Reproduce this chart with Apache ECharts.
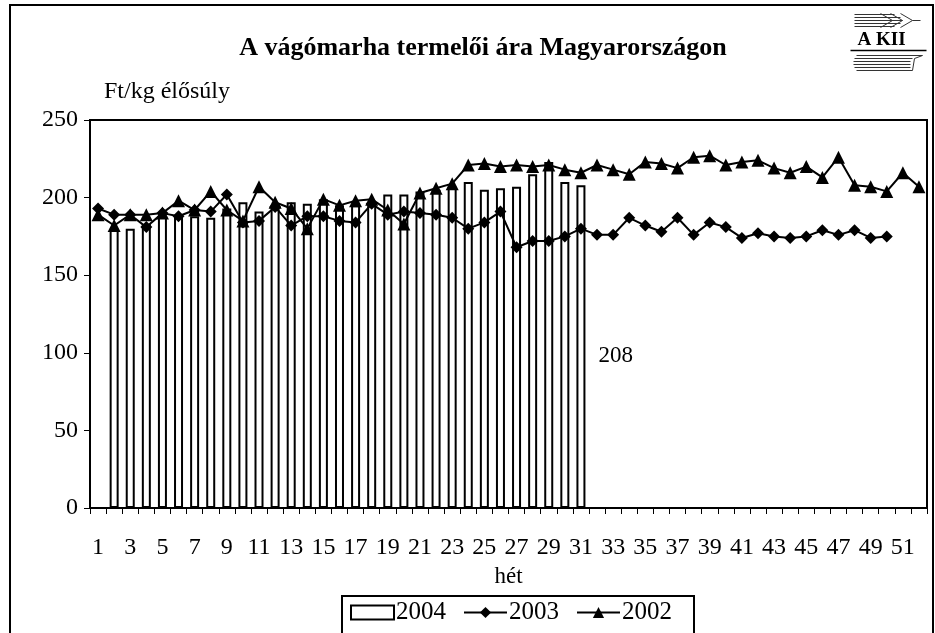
<!DOCTYPE html>
<html>
<head>
<meta charset="utf-8">
<script src="https://cdn.jsdelivr.net/npm/echarts@6/dist/echarts.min.js"></script>
<style>
  html, body { margin: 0; padding: 0; background: #fff; }
  #chart { width: 935px; height: 633px; }
</style>
</head>
<body>
<div id="chart"></div>
<script>
// hetek 1..52
const weeks = Array.from({ length: 52 }, (_, i) => String(i + 1));

// 2004 - oszlopok (1. hét hiányzik)
const y2004 = [null, 180, 180, 183, 188, 188, 188, 187, 193, 197, 191, 195, 197, 196, 199,
  195, 195, 197, 202, 202, 204, 205, 207, 210, 205, 206, 207, 215, 223, 210, 208];

// 2003 - rombusz
const y2003 = [193, 189, 189, 181, 190, 188, 192, 191, 202, 184, 185, 194, 182, 188, 188,
  185, 184, 196, 189, 191, 190, 189, 187, 180, 184, 191, 168, 172, 172, 175, 180,
  176, 176, 187, 182, 178, 187, 176, 184, 181, 174, 177, 175, 174, 175, 179, 176,
  179, 174, 175];

// 2002 - háromszög
const y2002 = [189, 182, 189, 189, 190, 198, 192, 204, 192, 185, 207, 197, 193, 180, 199,
  195, 198, 199, 192, 183, 203, 206, 209, 221, 222, 220, 221, 220, 221, 218, 216,
  221, 218, 215, 223, 222, 219, 226, 227, 221, 223, 224, 219, 216, 220, 213, 226,
  208, 207, 204, 216, 207];

const serif = '"Liberation Serif", "DejaVu Serif", serif';

const chart = echarts.init(document.getElementById('chart'), null, { renderer: 'canvas' });

const option = {
  animation: false,
  backgroundColor: '#fff',
  textStyle: { fontFamily: serif, color: '#000' },
  title: {
    text: 'A vágómarha termelői ára Magyarországon',
    left: 478,
    textAlign: 'center',
    top: 30,
    textStyle: { fontFamily: serif, fontSize: 26, fontWeight: 'bold', color: '#000' }
  },
  grid: {
    left: 90, top: 120, right: 8, bottom: 125,
    show: true, borderColor: '#000', borderWidth: 2, backgroundColor: 'transparent'
  },
  legend: {
    left: 342, top: 596,
    itemWidth: 43, itemHeight: 14, itemGap: 17,
    borderColor: '#000', borderWidth: 2,
    padding: [4, 22, 30, 8],
    textStyle: { fontFamily: serif, fontSize: 25, color: '#000', padding: [0, 0, 0, -3] },
    data: [{ name: '2004', icon: 'rect' }, { name: '2003' }, { name: '2002' }]
  },
  xAxis: {
    type: 'category',
    data: weeks,
    name: 'hét',
    nameLocation: 'middle',
    nameGap: 57,
    nameTextStyle: { fontFamily: serif, fontSize: 23, color: '#000' },
    axisLine: { lineStyle: { color: '#000', width: 2 } },
    axisTick: { show: true, alignWithLabel: false, interval: 0, length: 6, lineStyle: { color: '#000' } },
    axisLabel: { interval: 1, margin: 28, fontFamily: serif, fontSize: 24, color: '#000' }
  },
  yAxis: {
    type: 'value',
    min: 0, max: 250, interval: 50,
    name: 'Ft/kg élősúly',
    nameGap: 16,
    nameTextStyle: { fontFamily: serif, fontSize: 24, color: '#000', align: 'left', padding: [0, 0, 0, 14] },
    axisLine: { show: true, lineStyle: { color: '#000', width: 2 } },
    axisTick: { show: true, length: 6, lineStyle: { color: '#000' } },
    splitLine: { show: false },
    axisLabel: { margin: 12, fontFamily: serif, fontSize: 24, color: '#000' }
  },
  series: [
    {
      name: '2004',
      type: 'bar',
      data: y2004,
      barWidth: 9,
      itemStyle: { color: '#fff', borderColor: '#000', borderWidth: 2 },
      label: {
        show: true,
        position: 'right',
        offset: [8, 9],
        fontFamily: serif, fontSize: 23, color: '#000',
        formatter: p => (p.dataIndex === y2004.length - 1 ? String(p.value) : '')
      },
      z: 1
    },
    {
      name: '2003',
      type: 'line',
      data: y2003,
      symbol: 'diamond',
      symbolSize: 12,
      showAllSymbol: true,
      lineStyle: { color: '#000', width: 2 },
      itemStyle: { color: '#000' },
      z: 3
    },
    {
      name: '2002',
      type: 'line',
      data: y2002,
      symbol: 'triangle',
      symbolSize: 13,
      showAllSymbol: true,
      lineStyle: { color: '#000', width: 2 },
      itemStyle: { color: '#000' },
      z: 4
    }
  ],
  graphic: [
    // külső keret
    { type: 'polyline', shape: { points: [[10, 640], [10, 5], [933, 5], [933, 640]] },
      style: { stroke: '#000', lineWidth: 2, fill: null }, silent: true },
    // AKII logó
    { type: 'group', left: 848, top: 11, children: [
      { type: 'line', shape: { x1: 4, y1: 2, x2: 44, y2: 2 }, style: { stroke: '#333', lineWidth: 1 } },
      { type: 'line', shape: { x1: 4, y1: 5, x2: 50, y2: 5 }, style: { stroke: '#333', lineWidth: 1 } },
      { type: 'line', shape: { x1: 4, y1: 8, x2: 52, y2: 8 }, style: { stroke: '#333', lineWidth: 1 } },
      { type: 'line', shape: { x1: 4, y1: 11, x2: 50, y2: 11 }, style: { stroke: '#333', lineWidth: 1 } },
      { type: 'line', shape: { x1: 4, y1: 14, x2: 44, y2: 14 }, style: { stroke: '#333', lineWidth: 1 } },
      { type: 'polyline', shape: { points: [[30, 1], [42, 8], [30, 15]] }, style: { stroke: '#333', lineWidth: 1, fill: null } },
      { type: 'polyline', shape: { points: [[40, 1], [52, 8], [40, 15]] }, style: { stroke: '#333', lineWidth: 1, fill: null } },
      { type: 'polyline', shape: { points: [[50, 1], [62, 8], [50, 15]] }, style: { stroke: '#333', lineWidth: 1, fill: null } },
      { type: 'line', shape: { x1: 62, y1: 8, x2: 70, y2: 8 }, style: { stroke: '#333', lineWidth: 1 } },
      { type: 'text', left: 7, top: 18, style: { text: 'A KII', fontFamily: serif, fontSize: 19, fontWeight: 'bold', fill: '#000' } },
      { type: 'line', shape: { x1: 0, y1: 38, x2: 76, y2: 38 }, style: { stroke: '#000', lineWidth: 1.5 } },
      { type: 'line', shape: { x1: 6, y1: 43, x2: 72, y2: 43 }, style: { stroke: '#333', lineWidth: 1 } },
      { type: 'line', shape: { x1: 4, y1: 46, x2: 62, y2: 46 }, style: { stroke: '#333', lineWidth: 1 } },
      { type: 'line', shape: { x1: 3, y1: 49, x2: 60, y2: 49 }, style: { stroke: '#333', lineWidth: 1 } },
      { type: 'line', shape: { x1: 3, y1: 52, x2: 60, y2: 52 }, style: { stroke: '#333', lineWidth: 1 } },
      { type: 'line', shape: { x1: 4, y1: 55, x2: 60, y2: 55 }, style: { stroke: '#333', lineWidth: 1 } },
      { type: 'line', shape: { x1: 6, y1: 58, x2: 62, y2: 58 }, style: { stroke: '#333', lineWidth: 1 } },
      { type: 'polyline', shape: { points: [[62, 58], [64, 46], [72, 43]] }, style: { stroke: '#333', lineWidth: 1, fill: null } }
    ] }
  ]
};

chart.setOption(option);
</script>
</body>
</html>
